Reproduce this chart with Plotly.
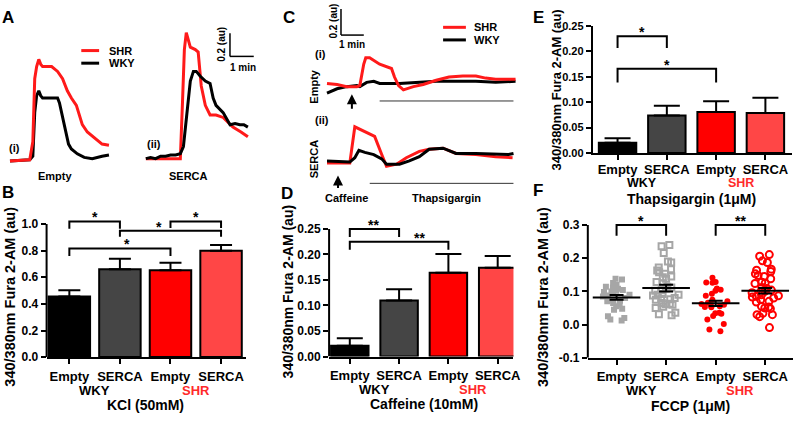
import plotly.graph_objects as go

W, H = 800, 421
FONT = "Liberation Sans, Arial, Helvetica, sans-serif"
RED = "#ff1a1a"
GRAY = "#a6a6a6"

def fx(p):
    return p / W

def fy(p):
    return 1 - p / H

# ---------------- DATA ----------------
# Panel A: KCl-evoked Fura-2 traces (time in min, ratio change in au)
a_empty_shr_t = [0.42, 1.25, 1.38, 1.46, 1.54, 1.63, 1.71, 1.79, 1.96, 2.17, 2.42, 2.63, 2.83, 3.0, 3.21, 3.46, 3.67, 4.04, 4.29, 4.58]
a_empty_shr_v = [0, 0.01, 0.16, 0.68, 0.78, 0.84, 0.8, 0.78, 0.78, 0.78, 0.74, 0.68, 0.58, 0.52, 0.46, 0.3, 0.24, 0.18, 0.14, 0.13]
a_empty_wky_t = [0.42, 1.25, 1.38, 1.46, 1.54, 1.63, 1.71, 1.79, 2.08, 2.42, 2.5, 2.63, 2.75, 2.88, 3.0, 3.25, 3.54, 3.88, 4.29, 4.58]
a_empty_wky_v = [0, 0.01, 0.04, 0.4, 0.54, 0.58, 0.54, 0.52, 0.52, 0.52, 0.48, 0.36, 0.24, 0.14, 0.1, 0.06, 0.03, 0.02, 0.04, 0.05]
a_serca_shr_t = [6.13, 6.88, 7.58, 7.67, 7.75, 7.83, 7.92, 8.0, 8.21, 8.33, 8.46, 8.63, 8.83, 9.08, 9.38, 9.79, 10.13, 10.42]
a_serca_shr_v = [0.02, 0.02, 0.02, 0.48, 0.92, 1.06, 1.0, 0.94, 0.92, 0.9, 0.62, 0.46, 0.38, 0.38, 0.36, 0.28, 0.24, 0.2]
a_serca_wky_t = [6.13, 6.33, 6.54, 6.75, 6.96, 7.17, 7.38, 7.58, 7.71, 7.83, 8.0, 8.13, 8.25, 8.42, 8.63, 8.83, 8.96, 9.08, 9.38, 9.67, 9.88, 10.08, 10.25, 10.42]
a_serca_wky_v = [0.02, 0.03, 0.02, 0.04, 0.04, 0.05, 0.05, 0.06, 0.12, 0.36, 0.66, 0.74, 0.74, 0.7, 0.66, 0.64, 0.52, 0.46, 0.4, 0.3, 0.31, 0.3, 0.3, 0.28]

# Panel C: caffeine then thapsigargin traces (time in min, ratio change in au)
c_empty_shr_t = [0.43, 0.87, 1.30, 1.74, 1.87, 2.04, 2.13, 2.30, 2.74, 3.04, 3.26, 3.39, 3.57, 3.78, 4.22, 4.65, 5.22, 5.78, 6.39, 6.96, 7.39, 7.83, 8.26, 8.70]
c_empty_shr_v = [0.01, 0, -0.02, -0.02, -0.01, 0.19, 0.25, 0.25, 0.19, 0.17, 0.15, 0.07, -0.01, -0.05, -0.02, 0, 0.04, 0.07, 0.08, 0.08, 0.06, 0.05, 0.05, 0.05]
c_empty_wky_t = [0.43, 0.87, 1.30, 1.74, 1.87, 2.17, 2.48, 2.74, 3.61, 4.35, 5.22, 6.09, 6.96, 7.83, 8.70]
c_empty_wky_v = [-0.08, -0.04, -0.02, -0.01, -0.02, 0.02, 0.03, 0.01, 0.01, 0.02, 0.03, 0.03, 0.03, 0.02, 0.03]
c_serca_shr_t = [0.43, 1.43, 1.65, 2.17, 2.52, 2.83, 3.04, 3.48, 3.91, 4.48, 4.91, 5.52, 6.09, 6.96, 7.83, 8.57]
c_serca_shr_v = [-0.01, -0.01, 0.33, 0.28, 0.24, 0.07, -0.04, -0.02, 0.04, 0.1, 0.12, 0.13, 0.08, 0.07, 0.05, 0.04]
c_serca_wky_t = [0.43, 1.43, 1.65, 1.83, 2.09, 2.48, 2.83, 3.04, 3.61, 4.04, 4.48, 4.91, 5.52, 6.09, 6.96, 7.83, 8.39, 8.61]
c_serca_wky_v = [0.01, 0, 0.04, 0.11, 0.09, 0.07, 0.03, -0.02, -0.02, 0.01, 0.05, 0.12, 0.13, 0.08, 0.08, 0.07, 0.07, 0.08]

# Bar panels
cats = ["Empty", "SERCA", "Empty", "SERCA"]
groups = ["WKY", "SHR"]
bar_colors = ["#000000", "#454545", "#ff0000", "#ff4646"]
kcl_mean = [0.455, 0.66, 0.653, 0.80]
kcl_sem = [0.047, 0.08, 0.056, 0.042]
caf_mean = [0.021, 0.11, 0.164, 0.174]
caf_sem = [0.015, 0.022, 0.037, 0.023]
tg_mean = [0.02, 0.074, 0.081, 0.079]
tg_sem = [0.009, 0.019, 0.021, 0.03]

# Panel F individual cells
fccp_wky_empty = [0.138, 0.136, 0.125, 0.12, 0.114, 0.112, 0.108, 0.104, 0.102, 0.1, 0.098, 0.095, 0.09, 0.088,
                  0.085, 0.08, 0.075, 0.072, 0.07, 0.065, 0.06, 0.055, 0.048, 0.045, 0.025, 0.02, 0.015, 0.012]
fccp_wky_serca = [0.24, 0.236, 0.216, 0.19, 0.187, 0.172, 0.167, 0.163, 0.158, 0.153, 0.145, 0.143, 0.138, 0.128,
                  0.124, 0.114, 0.112, 0.109, 0.104, 0.102, 0.092, 0.09, 0.09, 0.088, 0.08, 0.078, 0.076, 0.075,
                  0.065, 0.063, 0.061, 0.06, 0.054, 0.05, 0.036, 0.031, 0.028]
fccp_shr_empty = [0.141, 0.128, 0.127, 0.126, 0.109, 0.105, 0.102, 0.093, 0.087, 0.075, 0.07, 0.066, 0.062, 0.06,
                  0.058, 0.055, 0.053, 0.052, 0.036, 0.034, 0.033, 0.026, 0.015, 0.002, -0.015, -0.02]
fccp_shr_serca = [0.211, 0.206, 0.192, 0.187, 0.167, 0.164, 0.16, 0.153, 0.148, 0.145, 0.138, 0.128, 0.125, 0.124,
                  0.112, 0.109, 0.104, 0.1, 0.098, 0.096, 0.09, 0.087, 0.085, 0.083, 0.08, 0.075, 0.07, 0.068,
                  0.055, 0.053, 0.05, 0.048, 0.034, 0.03, 0.03, 0.024, -0.009]
fccp_mean = [0.082, 0.11, 0.064, 0.102]
fccp_sem = [0.007, 0.01, 0.008, 0.008]

# significance brackets: (from bar, to bar, top, drop, label, label position)
kcl_sig = [(0, 1, 1.02, 0.055, "*", 0.5), (1, 3, 0.95, 0.045, "*", 1.77),
           (2, 3, 1.02, 0.05, "*", 2.5), (0, 2, 0.817, 0.057, "*", 1.14)]
caf_sig = [(0, 1, 0.25, 0.016, "**", 0.48), (0, 2, 0.225, 0.016, "**", 1.41)]
tg_sig = [(0, 1, 0.23, 0.023, "*", 0.5), (0, 2, 0.166, 0.027, "*", 1.0)]
fccp_sig = [(0, 1, 0.30, 0.032, "*", 0.5), (2, 3, 0.30, 0.032, "**", 2.5)]

# ---------------- FIGURE ----------------
fig = go.Figure()
annotations = []
shapes = []
pos = list(range(len(cats)))


def txt(x, y, s, size=12, color="black", angle=0, xanchor="center", yanchor="middle"):
    annotations.append(dict(x=fx(x), y=fy(y), xref="paper", yref="paper", text=s, showarrow=False,
                            font=dict(family=FONT, size=size, color=color, weight="bold"),
                            textangle=angle, xanchor=xanchor, yanchor=yanchor))


def pline(x0, y0, x1, y1, color="black", width=1.5):
    shapes.append(dict(type="line", xref="paper", yref="paper", x0=fx(x0), y0=fy(y0), x1=fx(x1), y1=fy(y1),
                       line=dict(color=color, width=width)))


def trace_line(t, v, color, ax):
    fig.add_trace(go.Scatter(x=t, y=v, mode="lines", line=dict(color=color, width=3, shape="linear"),
                             xaxis="x" + ax, yaxis="y" + ax, hoverinfo="skip"))


# Panel A traces
trace_line(a_empty_wky_t, a_empty_wky_v, "black", "")
trace_line(a_empty_shr_t, a_empty_shr_v, RED, "")
trace_line(a_serca_shr_t, a_serca_shr_v, RED, "")
trace_line(a_serca_wky_t, a_serca_wky_v, "black", "")
# Panel C traces
trace_line(c_empty_wky_t, c_empty_wky_v, "black", "3")
trace_line(c_empty_shr_t, c_empty_shr_v, RED, "3")
trace_line(c_serca_shr_t, c_serca_shr_v, RED, "4")
trace_line(c_serca_wky_t, c_serca_wky_v, "black", "4")


def brackets(sig, ax):
    for i, j, top, drop, lab, lx in sig:
        fig.add_trace(go.Scatter(x=[i, i, j, j], y=[top - drop, top, top, top - drop], mode="lines",
                                 line=dict(color="black", width=2), xaxis="x" + ax, yaxis="y" + ax,
                                 hoverinfo="skip"))
        annotations.append(dict(x=lx, y=top, xref="x" + ax, yref="y" + ax, text=lab, showarrow=False,
                                yanchor="bottom", yshift=-6,
                                font=dict(family=FONT, size=14, color="black", weight="bold")))


def bars(means, sems, ax, capw, sig, bw):
    fig.add_trace(go.Bar(x=pos, y=means, width=bw,
                         marker=dict(color=bar_colors, line=dict(color="black", width=2)),
                         error_y=dict(type="data", symmetric=False, array=sems, arrayminus=[0] * len(sems),
                                      color="black", thickness=2, width=capw),
                         xaxis="x" + ax, yaxis="y" + ax, hoverinfo="skip"))
    brackets(sig, ax)


bars(kcl_mean, kcl_sem, "2", 11, kcl_sig, 0.82)
bars(caf_mean, caf_sem, "5", 13, caf_sig, 0.76)
bars(tg_mean, tg_sem, "6", 13, tg_sig, 0.76)

# Panel F scatter
f_sets = [
    (fccp_wky_empty, "square", GRAY, 6, 0),
    (fccp_wky_serca, "square-open", GRAY, 6, 2),
    (fccp_shr_empty, "circle", "#ff0000", 6, 0),
    (fccp_shr_serca, "circle-open", "#ff0000", 7, 2),
]
for k, (vals, sym, col, sz, lw) in enumerate(f_sets):
    fig.add_trace(go.Box(y=vals, x0=pos[k], boxpoints="all", jitter=1, pointpos=0, width=0.62,
                         fillcolor="rgba(0,0,0,0)", line=dict(width=0, color="rgba(0,0,0,0)"),
                         marker=dict(symbol=sym, color=col, size=sz, line=dict(width=lw, color=col)),
                         xaxis="x7", yaxis="y7", hoverinfo="skip"))
fig.add_trace(go.Scatter(x=pos, y=fccp_mean, mode="markers",
                         marker=dict(symbol="line-ew", size=34, color="black", line=dict(width=2, color="black")),
                         error_y=dict(type="data", array=fccp_sem, color="black", thickness=2, width=7),
                         xaxis="x7", yaxis="y7", hoverinfo="skip"))
brackets(fccp_sig, "7")

# ---------------- AXES ----------------
tickfont = dict(family=FONT, size=13, color="black", weight="bold")


def cat_x(d0, d1, r0, r1, anchor, standoff=1):
    return dict(domain=[fx(d0), fx(d1)], range=[r0, r1], anchor=anchor, tickvals=pos, ticktext=cats,
                showline=True, linewidth=2, linecolor="black", ticks="outside", ticklen=5, tickwidth=2,
                tickcolor="black", tickfont=tickfont, showgrid=False, zeroline=False, fixedrange=True,
                ticklabelstandoff=standoff)


def val_y(top_px, bot_px, r0, r1, tickvals, ticktext, anchor, showline, fsize=12):
    return dict(domain=[fy(bot_px), fy(top_px)], range=[r0, r1], anchor=anchor, tickvals=tickvals,
                ticktext=ticktext, showline=showline, linewidth=2, linecolor="black", ticks="outside",
                ticklen=5, tickwidth=2, tickcolor="black",
                tickfont=dict(family=FONT, size=fsize, color="black", weight="bold"), showgrid=False,
                zeroline=False, fixedrange=True)


def hidden(x0, x1, y0, y1, rx, ry, anchor):
    return (dict(domain=[fx(x0), fx(x1)], range=rx, visible=False, anchor="y" + anchor, fixedrange=True),
            dict(domain=[fy(y1), fy(y0)], range=ry, visible=False, anchor="x" + anchor, fixedrange=True))


xa, ya = hidden(0, 265, 20, 170, [0, 265 / 24], [(160 - 170) / 125, (160 - 20) / 125], "")
xc1, yc1 = hidden(320, 525, 40, 112, [0, 205 / 23], [(81 - 112) / 110, (81 - 40) / 110], "3")
xc2, yc2 = hidden(320, 525, 110, 195, [0, 205 / 23], [(161 - 195) / 110, (161 - 110) / 110], "4")

b_ticks = [0, 0.2, 0.4, 0.6, 0.8, 1.0]
d_ticks = [0, 0.05, 0.10, 0.15, 0.20, 0.25]
f_ticks = [-0.1, 0.0, 0.1, 0.2, 0.3]

fig.update_layout(
    width=W, height=H, margin=dict(l=0, r=0, t=0, b=0),
    paper_bgcolor="white", plot_bgcolor="rgba(0,0,0,0)", showlegend=False,
    font=dict(family=FONT, color="black"), boxmode="overlay",
    xaxis=xa, yaxis=ya,
    xaxis3=xc1, yaxis3=yc1, xaxis4=xc2, yaxis4=yc2,
    xaxis2=cat_x(47, 248, -0.45, 3.49, "y2"),
    yaxis2=val_y(219.5, 362.3, 0, 1.04, b_ticks, ["%.1f" % v for v in b_ticks], "x2", False),
    xaxis5=cat_x(332, 518, -0.42, 3.32, "y5"),
    yaxis5=val_y(227.4, 361.7, 0, 0.255, d_ticks, ["%.2f" % v for v in d_ticks], "x5", False),
    xaxis6=cat_x(598, 799, -0.503, 3.54, "y6", standoff=-2),
    yaxis6=val_y(20.7, 151.7, 0, 0.25, d_ticks, ["%.2f" % v for v in d_ticks], "x6", True, fsize=11),
    xaxis7=cat_x(593, 800, -0.58, 3.56, "y7"),
    yaxis7=val_y(224.3, 363, -0.1, 0.305, f_ticks, ["%.1f" % v for v in f_ticks], "x7", False),
)

# manual y-axis lines ending at the top tick
for ax, xp, y0, y1 in [("y2", 47, 0, 1.0), ("y5", 332, 0, 0.25), ("y7", 593, -0.1, 0.3)]:
    shapes.append(dict(type="line", xref="paper", yref=ax, x0=fx(xp), x1=fx(xp), y0=y0, y1=y1,
                       line=dict(color="black", width=2)))

# group and axis-title labels under bar panels
for ax, yg, ytitle, title, gs in [("x2", 397, 412, "KCl (50mM)", 13), ("x5", 396, 411, "Caffeine (10mM)", 13),
                                  ("x6", 183, 199, "Thapsigargin (1μM)", 12.5), ("x7", 397, 413, "FCCP (1μM)", 13)]:
    for g, (gname, col) in enumerate(zip(groups, ["black", "#ff2a2a"])):
        annotations.append(dict(x=2 * g + 0.5, y=fy(yg), xref=ax, yref="paper", text=gname, showarrow=False,
                                xanchor="center", yanchor="middle",
                                font=dict(family=FONT, size=gs, color=col, weight="bold")))
    annotations.append(dict(x=1.5, y=fy(ytitle), xref=ax, yref="paper", text=title, showarrow=False,
                            xanchor="center", yanchor="middle",
                            font=dict(family=FONT, size=14, color="black", weight="bold")))

ylab = "340/380nm Fura 2-AM (au)"
txt(10, 300, ylab, 14.5, angle=-90)
txt(290, 294, ylab, 14, angle=-90)
txt(561, 87, ylab, 13, angle=-90)
txt(548, 300, ylab, 14.5, angle=-90)

# panel letters
for L, x, y in [("A", 8, 12), ("B", 8, 192), ("C", 292, 12), ("D", 290, 193), ("E", 543, 12), ("F", 543, 190)]:
    txt(x, y, L, 17)

# Panel A decorations
pline(82, 46, 100, 46, RED, 3)
pline(82, 59, 100, 59, "black", 3)
txt(108, 46, "SHR", 11, xanchor="left")
txt(108, 59, "WKY", 11, xanchor="left")
txt(15, 147, "(i)", 11)
txt(155, 142, "(ii)", 11)
txt(56, 175, "Empty", 11)
txt(190, 175, "SERCA", 11)
pline(232, 28, 232, 52)
pline(232, 52, 256, 52)
txt(224, 40, "0.2 (au)", 10, angle=-90)
txt(245, 63, "1 min", 10)

# Panel C decorations
pline(447, 22, 470, 22, RED, 3)
pline(447, 35, 470, 35, "black", 3)
txt(476, 22, "SHR", 11, xanchor="left")
txt(476, 35, "WKY", 11, xanchor="left")
pline(344, 3, 344, 30)
pline(344, 30, 367, 30)
txt(336, 16, "0.2 (au)", 10, angle=-90)
txt(355, 40, "1 min", 10)
txt(323, 50, "(i)", 11)
txt(325, 118, "(ii)", 11)
txt(317, 83, "Empty", 11, angle=-90)
txt(317, 158, "SERCA", 11, angle=-90)
pline(383, 98, 518, 98, "#333333", 1)
pline(373, 183, 518, 183, "#333333", 1)
txt(350, 198, "Caffeine", 11)
txt(450, 198, "Thapsigargin", 11)
for x, ytip, ytail in [(355, 91, 107), (341, 175, 189)]:
    annotations.append(dict(x=fx(x), y=fy(ytip), xref="paper", yref="paper", text="", showarrow=True,
                            ax=0, ay=ytail - ytip, arrowhead=2, arrowsize=1, arrowwidth=2, arrowcolor="black"))

fig.update_layout(annotations=annotations, shapes=shapes)
fig.write_html("out.html", config={"displayModeBar": False},
               post_script="document.body.style.margin='0px';document.body.style.overflow='hidden';")
